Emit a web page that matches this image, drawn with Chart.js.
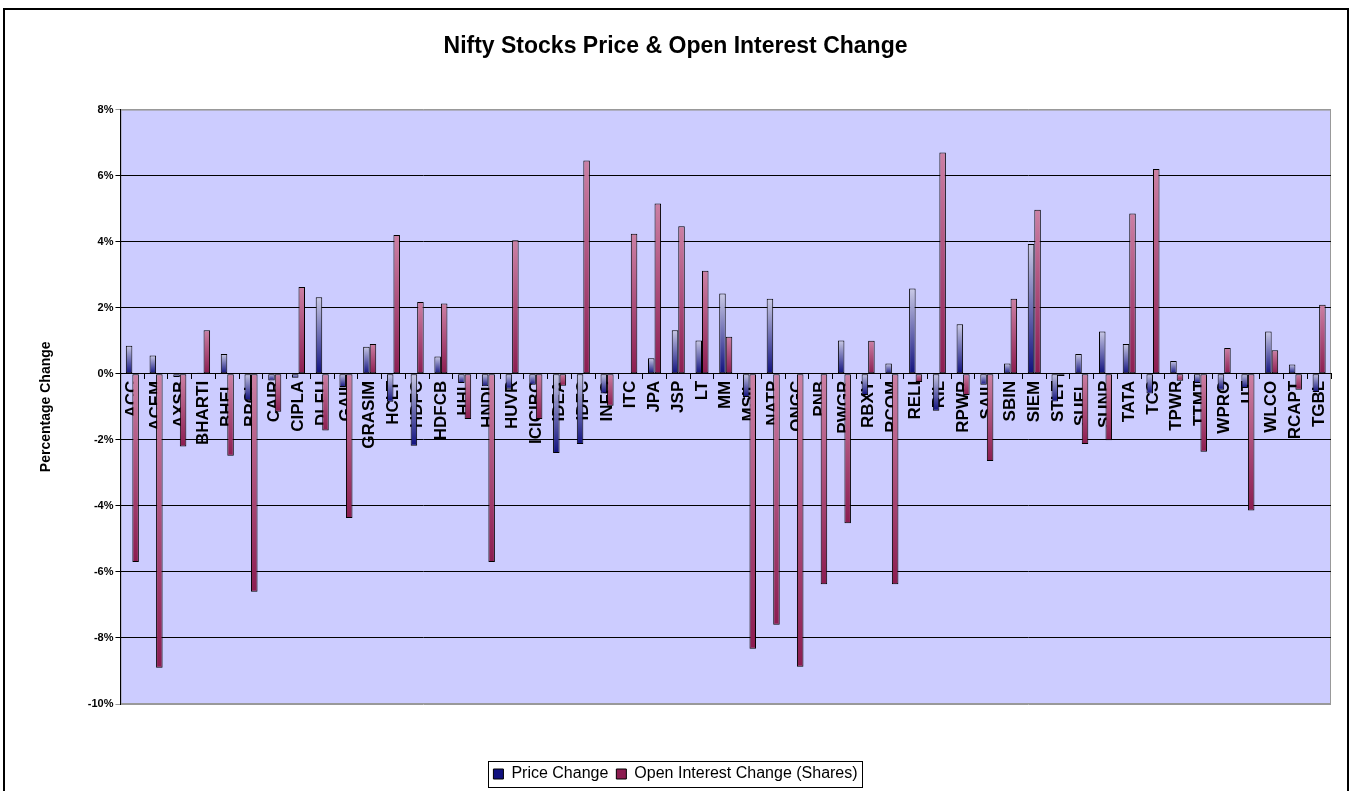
<!DOCTYPE html>
<html>
<head>
<meta charset="utf-8">
<script src="https://cdn.jsdelivr.net/npm/chart.js@4.4.1/dist/chart.umd.min.js"></script>
<style>
  html, body { margin: 0; padding: 0; background: #fff; }
  #wrap { position: relative; width: 1351px; height: 791px; overflow: hidden; }
  #grafico { position: absolute; left: 0; top: 0; }
  #moldura { position: absolute; left: 3px; top: 8px; width: 1346px; height: 800px;
             border: 2px solid #000; box-sizing: border-box; pointer-events: none; }
</style>
</head>
<body>
<div id="wrap">
  <canvas id="grafico" width="1351" height="791"></canvas>
  <div id="moldura"></div>
</div>
<script>
// dados (%)
const acoes = ['ACC', 'ACEM', 'AXSB', 'BHARTI', 'BHEL', 'BPCL', 'CAIR', 'CIPLA', 'DLFU', 'GAIL',
    'GRASIM', 'HCLT', 'HDFC', 'HDFCB', 'HHL', 'HNDL', 'HUVR', 'ICICIBC', 'IDEA', 'IDFC',
    'INFO', 'ITC', 'JPA', 'JSP', 'LT', 'MM', 'MSIL', 'NATP', 'ONGC', 'PNB',
    'PWGR', 'RBXY', 'RCOM', 'RELI', 'RIL', 'RPWR', 'SAIL', 'SBIN', 'SIEM', 'STLT',
    'SUEL', 'SUNP', 'TATA', 'TCS', 'TPWR', 'TTMT', 'WPRO', 'UT', 'WLCO', 'RCAPT', 'TGBL'];

const variacaoPreco = [0.85, 0.55, -0.1, 0.03, 0.6, -0.8, -0.2, -0.12, 2.32, -0.4,
    0.82, -0.85, -2.18, 0.52, -0.28, -0.38, -0.45, -0.33, -2.4, -2.13,
    -0.6, 0, 0.47, 1.32, 1.01, 2.43, -0.7, 2.27, 0, 0,
    1.01, -0.64, 0.31, 2.58, -1.12, 1.5, -0.33, 0.31, 3.93, -0.84,
    0.6, 1.28, 0.9, -0.6, 0.39, -0.28, -0.48, -0.43, 1.28, 0.28, -0.55];

const variacaoOI = [-5.7, -8.9, -2.2, 1.32, -2.48, -6.6, -1.15, 2.63, -1.72, -4.37,
    0.9, 4.2, 2.17, 2.13, -1.37, -5.7, 4.04, -1.37, -0.36, 6.46,
    -0.97, 4.24, 5.16, 4.47, 3.12, 1.12, -8.33, -7.6, -8.87, -6.37,
    -4.53, 1.0, -6.37, -0.25, 6.7, -0.64, -2.64, 2.27, 4.97, -0.07,
    -2.13, -2.01, 4.85, 6.2, -0.21, -2.36, 0.78, -4.14, 0.71, -0.48, 2.09];

const eixoMin = -10;
const eixoMax = 8;
const eixoPasso = 2;

Chart.defaults.font.family = "'Liberation Sans', Arial, sans-serif";
Chart.defaults.color = '#000';

function degrade(claro, escuro, liso) {
    return function (ctx) {
        if (ctx.type !== 'data' || !ctx.parsed) return liso;
        const y = ctx.chart.scales.y;
        if (!y) return liso;
        const a = y.getPixelForValue(0);
        const b = y.getPixelForValue(ctx.parsed.y);
        if (!isFinite(a) || !isFinite(b)) return liso;
        const topo = Math.min(a, b), base = Math.max(a, b);
        if (base - topo < 2) return liso;
        const g = ctx.chart.ctx.createLinearGradient(0, topo, 0, base);
        g.addColorStop(0, claro);
        g.addColorStop(1, escuro);
        return g;
    };
}

// fundo lilas da area do grafico
const fundoPlot = {
    id: 'fundoPlot',
    beforeDraw(chart) {
        const { ctx, chartArea: a } = chart;
        ctx.save();
        ctx.fillStyle = '#ccccff';
        ctx.fillRect(a.left, a.top, a.width, a.height);
        ctx.strokeStyle = '#999';
        ctx.lineWidth = 1;
        ctx.strokeRect(a.left + 0.5, a.top + 0.5, a.width - 1, a.height - 1);
        ctx.restore();
    }
};

// moldura em volta da legenda
const caixaLegenda = {
    id: 'caixaLegenda',
    afterDraw(chart) {
        const caixas = chart.legend && chart.legend.legendHitBoxes;
        if (!caixas || !caixas.length) return;
        let l = Infinity, r = -Infinity, t = Infinity, b = -Infinity;
        caixas.forEach(h => {
            l = Math.min(l, h.left);
            r = Math.max(r, h.left + h.width);
            t = Math.min(t, h.top);
            b = Math.max(b, h.top + h.height);
        });
        const ctx = chart.ctx;
        ctx.save();
        ctx.strokeStyle = '#000';
        ctx.lineWidth = 1;
        ctx.strokeRect(Math.round(l - 5) + 0.5, Math.round(t - 5) + 0.5, Math.round(r - l + 10), Math.round(b - t + 10));
        ctx.restore();
    }
};

new Chart(document.getElementById('grafico'), {
    type: 'bar',
    data: {
        labels: acoes,
        datasets: [{
            label: 'Price Change',
            data: variacaoPreco,
            backgroundColor: degrade('#cacae6', '#10107e', '#7070b4'),
            borderColor: '#000',
            borderWidth: 1,
            borderSkipped: false
        }, {
            label: 'Open Interest Change (Shares)',
            data: variacaoOI,
            backgroundColor: degrade('#cc80a4', '#8c1c50', '#b0507c'),
            borderColor: '#000',
            borderWidth: 1,
            borderSkipped: false
        }]
    },
    options: {
        responsive: false,
        animation: false,
        categoryPercentage: 0.55,
        barPercentage: 1,
        layout: {
            padding: { top: 0, left: 20, right: 20, bottom: -1 }
        },
        plugins: {
            title: {
                display: true,
                text: 'Nifty Stocks Price & Open Interest Change',
                font: { size: 23, weight: 'bold' },
                color: '#000',
                padding: { top: 33, bottom: 49 }
            },
            legend: {
                display: true,
                position: 'bottom',
                title: { display: true, text: '', font: { size: 10 }, padding: { top: 42, bottom: 0 } },
                labels: {
                    font: { size: 16 },
                    boxWidth: 10,
                    boxHeight: 10,
                    padding: 8,
                    color: '#000'
                }
            },
            tooltip: { enabled: false }
        },
        scales: {
            x: {
                position: { y: 0 },
                offset: true,
                grid: {
                    offset: true,
                    drawOnChartArea: false,
                    drawTicks: true,
                    tickLength: 5,
                    color: '#000'
                },
                border: { display: true, color: '#000', width: 1 },
                ticks: {
                    autoSkip: false,
                    minRotation: 90,
                    maxRotation: 90,
                    padding: 2,
                    font: { size: 17, weight: 'bold' },
                    color: '#000'
                }
            },
            y: {
                min: eixoMin,
                max: eixoMax,
                ticks: {
                    stepSize: eixoPasso,
                    callback: v => v + '%',
                    font: { size: 11, weight: 'bold' },
                    padding: 2,
                    color: '#000'
                },
                grid: {
                    tickLength: 5,
                    lineWidth: 1,
                    color: ctx => (ctx.tick && (ctx.tick.value === eixoMin || ctx.tick.value === eixoMax)) ? '#999' : '#000'
                },
                border: { display: true, color: '#000', width: 1 },
                title: {
                    display: true,
                    text: 'Percentage Change',
                    font: { size: 14, weight: 'bold' },
                    color: '#000',
                    padding: { top: 18, bottom: 31 }
                }
            }
        }
    },
    plugins: [fundoPlot, caixaLegenda]
});
</script>
</body>
</html>
